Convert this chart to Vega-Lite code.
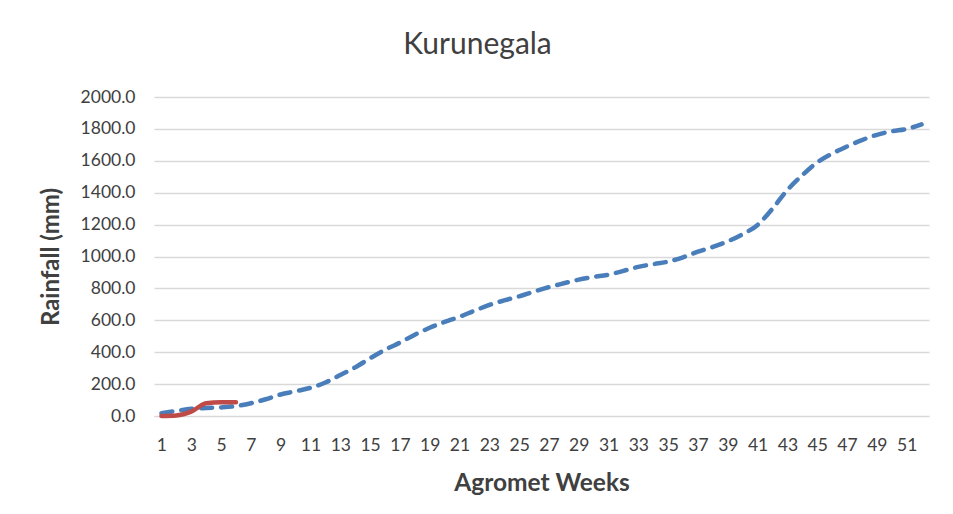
{
  "$schema": "https://vega.github.io/schema/vega-lite/v6.json",
  "autosize": "none",
  "width": 775,
  "height": 319,
  "padding": {"left": 154, "top": 97, "right": 24, "bottom": 98},
  "background": "white",
  "config": {"view": {"stroke": null}, "font": "Lato"},
  "title": {"text": "Kurunegala", "fontSize": 30, "fontWeight": "normal", "color": "#404040", "font": "Lato", "anchor": "middle", "dx": -64, "offset": 28},
  "data": {"values": [
    {"week": 1, "rain": 18, "series": "avg"},
    {"week": 2, "rain": 32, "series": "avg"},
    {"week": 3, "rain": 45, "series": "avg"},
    {"week": 4, "rain": 50, "series": "avg"},
    {"week": 5, "rain": 54, "series": "avg"},
    {"week": 6, "rain": 62, "series": "avg"},
    {"week": 7, "rain": 80, "series": "avg"},
    {"week": 8, "rain": 105, "series": "avg"},
    {"week": 9, "rain": 135, "series": "avg"},
    {"week": 10, "rain": 155, "series": "avg"},
    {"week": 11, "rain": 177, "series": "avg"},
    {"week": 12, "rain": 210, "series": "avg"},
    {"week": 13, "rain": 257, "series": "avg"},
    {"week": 14, "rain": 305, "series": "avg"},
    {"week": 15, "rain": 362, "series": "avg"},
    {"week": 16, "rain": 415, "series": "avg"},
    {"week": 17, "rain": 460, "series": "avg"},
    {"week": 18, "rain": 510, "series": "avg"},
    {"week": 19, "rain": 553, "series": "avg"},
    {"week": 20, "rain": 590, "series": "avg"},
    {"week": 21, "rain": 622, "series": "avg"},
    {"week": 22, "rain": 660, "series": "avg"},
    {"week": 23, "rain": 696, "series": "avg"},
    {"week": 24, "rain": 725, "series": "avg"},
    {"week": 25, "rain": 750, "series": "avg"},
    {"week": 26, "rain": 780, "series": "avg"},
    {"week": 27, "rain": 808, "series": "avg"},
    {"week": 28, "rain": 832, "series": "avg"},
    {"week": 29, "rain": 855, "series": "avg"},
    {"week": 30, "rain": 872, "series": "avg"},
    {"week": 31, "rain": 886, "series": "avg"},
    {"week": 32, "rain": 910, "series": "avg"},
    {"week": 33, "rain": 935, "series": "avg"},
    {"week": 34, "rain": 952, "series": "avg"},
    {"week": 35, "rain": 968, "series": "avg"},
    {"week": 36, "rain": 995, "series": "avg"},
    {"week": 37, "rain": 1030, "series": "avg"},
    {"week": 38, "rain": 1060, "series": "avg"},
    {"week": 39, "rain": 1095, "series": "avg"},
    {"week": 40, "rain": 1140, "series": "avg"},
    {"week": 41, "rain": 1198, "series": "avg"},
    {"week": 42, "rain": 1300, "series": "avg"},
    {"week": 43, "rain": 1417, "series": "avg"},
    {"week": 44, "rain": 1510, "series": "avg"},
    {"week": 45, "rain": 1590, "series": "avg"},
    {"week": 46, "rain": 1645, "series": "avg"},
    {"week": 47, "rain": 1690, "series": "avg"},
    {"week": 48, "rain": 1730, "series": "avg"},
    {"week": 49, "rain": 1763, "series": "avg"},
    {"week": 50, "rain": 1785, "series": "avg"},
    {"week": 51, "rain": 1800, "series": "avg"},
    {"week": 52, "rain": 1828, "series": "avg"},
    {"week": 1, "rain": 0, "series": "current"},
    {"week": 2, "rain": 3, "series": "current"},
    {"week": 3, "rain": 27, "series": "current"},
    {"week": 4, "rain": 80, "series": "current"},
    {"week": 5, "rain": 86, "series": "current"},
    {"week": 6, "rain": 86, "series": "current"}
  ]},
  "layer": [
    {
      "transform": [{"filter": "datum.series === 'avg'"}],
      "mark": {"type": "line", "interpolate": "monotone", "color": "#4A7EBB", "strokeWidth": 4.5, "strokeDash": [11, 9], "strokeCap": "round"},
      "encoding": {
        "x": {"field": "week", "type": "quantitative", "scale": {"domain": [0.5, 52.5], "nice": false},
          "axis": {"values": [1,3,5,7,9,11,13,15,17,19,21,23,25,27,29,31,33,35,37,39,41,43,45,47,49,51], "tickCount": 100, "format": "d", "grid": false, "ticks": false, "tickSize": 0, "labelPadding": 20, "labelFontSize": 17.5, "labelColor": "#404040", "labelFont": "Lato", "domainColor": "#d9d9d9", "title": "Agromet Weeks", "titleFontSize": 24.5, "titleFont": "Lato", "titleFontWeight": "bold", "titleColor": "#404040", "titlePadding": 18, "labelFlush": false, "labelOverlap": false}},
        "y": {"field": "rain", "type": "quantitative", "scale": {"domain": [0, 2000], "nice": false},
          "axis": {"values": [0,200,400,600,800,1000,1200,1400,1600,1800,2000], "tickCount": 50, "format": ".1f", "grid": true, "gridColor": "#d9d9d9", "gridWidth": 1.3, "ticks": false, "tickSize": 0, "domain": false, "labelPadding": 19, "labelFontSize": 17.5, "labelColor": "#404040", "labelFont": "Lato", "labelOverlap": false, "title": "Rainfall (mm)", "titleFontSize": 24, "titleFont": "Lato", "titleFontWeight": "bold", "titleColor": "#404040", "titlePadding": 17}}
      }
    },
    {
      "transform": [{"filter": "datum.series === 'current'"}],
      "mark": {"type": "line", "interpolate": "monotone", "color": "#BE4B48", "strokeWidth": 4.5, "strokeCap": "round"},
      "encoding": {
        "x": {"field": "week", "type": "quantitative"},
        "y": {"field": "rain", "type": "quantitative"}
      }
    }
  ]
}
